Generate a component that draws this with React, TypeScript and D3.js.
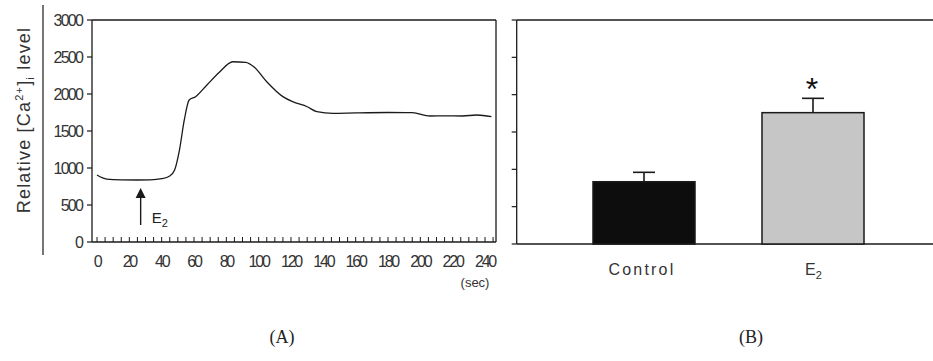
import React from "react";
import * as d3 from "d3";

// Panel A: time course
const timeSec = [0, 6, 15, 25, 33, 40, 45, 48, 51, 54, 57, 61, 68, 76, 84, 92, 97, 105, 115, 121, 130, 136, 146, 160, 180, 195, 206, 215, 226, 235, 244];
const caLevel = [905, 850, 840, 838, 840, 855, 892, 973, 1243, 1649, 1919, 1964, 2122, 2301, 2436, 2428, 2369, 2166, 1964, 1896, 1828, 1761, 1739, 1745, 1750, 1748, 1703, 1705, 1703, 1716, 1693];
const xTickLabels = [0, 20, 40, 60, 80, 100, 120, 140, 160, 180, 200, 220, 240];
const yTickLabels = [0, 500, 1000, 1500, 2000, 2500, 3000];
const arrowTime = 27;

// Panel B: bars
const categories = ["Control", "E2"];
const barMeans = [834, 1759];
const barErrors = [126, 192];

const W = 933;
const H = 361;
const ink = "#1a1a1a";
const sans = "'Liberation Sans', Arial, Helvetica, sans-serif";
const serif = "'Liberation Serif', 'Times New Roman', serif";

export default function App() {
  const xA = d3.scaleLinear().domain([0, 240]).range([97, 485]);
  const yA = d3.scaleLinear().domain([0, 3000]).range([242, 20]);
  const ax0 = 92, ax1 = 496;

  const line = d3
    .line<number>()
    .x((_, i) => xA(timeSec[i]))
    .y((d) => yA(d))
    .curve(d3.curveMonotoneX);

  const minorTicks = d3.range(0, 246, 5);

  const xB = d3.scaleBand<string>().domain(categories).range([559.2, 897.8]).paddingInner(0.3964).paddingOuter(0.2);
  const yB = d3.scaleLinear().domain([0, 3000]).range([244, 20]);
  const bx0 = 516.7;

  const arrowX = xA(arrowTime);

  return (
    <svg width={W} height={H} style={{ position: "absolute", left: 0, top: 0, background: "#fff" }}>
      {/* separator line left of y label */}
      <line x1={43} x2={43} y1={5} y2={255} stroke={ink} strokeWidth={1.2} />

      {/* Y label */}
      <text
        transform={`translate(30,120) rotate(-90)`}
        textAnchor="middle"
        fontFamily={sans}
        fontSize={18}
        letterSpacing={1.2}
        fill="#333"
      >
        Relative [Ca<tspan fontSize={11} dy={-7}>2+</tspan>
        <tspan dy={7}>]</tspan>
        <tspan fontSize={11} dy={4}>i</tspan>
        <tspan dy={-4}> level</tspan>
      </text>

      {/* Panel A frame */}
      <g stroke={ink} strokeWidth={1.3} fill="none">
        <line x1={ax0} x2={ax1} y1={yA(3000)} y2={yA(3000)} />
        <line x1={ax0} x2={ax1} y1={yA(0)} y2={yA(0)} />
        <line x1={ax0} x2={ax0} y1={yA(3000)} y2={yA(0)} />
        <line x1={ax1} x2={ax1} y1={yA(3000)} y2={yA(0)} />
      </g>
      {/* Y ticks A */}
      {yTickLabels.map((v) => (
        <g key={"ya" + v}>
          <line x1={ax0 - 5} x2={ax0} y1={yA(v)} y2={yA(v)} stroke={ink} strokeWidth={1.2} />
          <text x={82} y={yA(v) + 5.5} textAnchor="end" fontFamily={sans} fontSize={16} letterSpacing={-1.8} fill="#333">
            {v}
          </text>
        </g>
      ))}
      {/* minor x ticks */}
      {minorTicks.map((t) => (
        <line key={"mt" + t} x1={xA(t)} x2={xA(t)} y1={yA(0)} y2={yA(0) - 5} stroke={ink} strokeWidth={1} />
      ))}
      {/* x tick labels */}
      {xTickLabels.map((t) => (
        <text key={"xl" + t} x={xA(t)} y={267} textAnchor="middle" fontFamily={sans} fontSize={16} letterSpacing={-2.2} fill="#333">
          {t}
        </text>
      ))}
      <text x={475} y={287} textAnchor="middle" fontFamily={sans} fontSize={13} fill="#333">
        (sec)
      </text>

      {/* curve */}
      <path d={line(caLevel) || ""} fill="none" stroke={ink} strokeWidth={1.3} />

      {/* arrow */}
      <line x1={arrowX} x2={arrowX} y1={yA(230)} y2={yA(600)} stroke={ink} strokeWidth={1.4} />
      <path
        d={`M${arrowX},${yA(730)} L${arrowX - 5},${yA(595)} L${arrowX + 5},${yA(595)} Z`}
        fill={ink}
      />
      <text x={arrowX + 11} y={223} fontFamily={sans} fontSize={15} fill="#222">
        E<tspan fontSize={11} dy={4}>2</tspan>
      </text>

      {/* Panel B frame */}
      <g stroke={ink} strokeWidth={1.3}>
        <line x1={bx0} x2={W} y1={yB(3000)} y2={yB(3000)} />
        <line x1={bx0} x2={W} y1={yB(0)} y2={yB(0)} />
        <line x1={bx0} x2={bx0} y1={yB(3000)} y2={yB(0)} />
      </g>
      {yTickLabels.map((v) => (
        <line key={"yb" + v} x1={bx0 - 5} x2={bx0} y1={yB(v)} y2={yB(v)} stroke={ink} strokeWidth={1.2} />
      ))}

      {/* bars */}
      {categories.map((c, i) => {
        const x = xB(c) as number;
        const bw = xB.bandwidth();
        const cx = x + bw / 2;
        return (
          <g key={c}>
            <line x1={cx} x2={cx} y1={yB(barMeans[i])} y2={yB(barMeans[i] + barErrors[i])} stroke={ink} strokeWidth={1.6} />
            <line x1={cx - 11} x2={cx + 11} y1={yB(barMeans[i] + barErrors[i])} y2={yB(barMeans[i] + barErrors[i])} stroke={ink} strokeWidth={1.6} />
            <rect
              x={x}
              y={yB(barMeans[i])}
              width={bw}
              height={yB(0) - yB(barMeans[i])}
              fill={i === 0 ? "#0d0d0d" : "#c6c6c6"}
              stroke={ink}
              strokeWidth={1.5}
            />
          </g>
        );
      })}
      {/* significance star */}
      <text
        x={(xB("E2") as number) + xB.bandwidth() / 2 - 1}
        y={100}
        textAnchor="middle"
        fontFamily={sans}
        fontSize={32}
        fill="#111"
      >
        *
      </text>

      {/* category labels */}
      <text x={(xB("Control") as number) + xB.bandwidth() / 2 - 2} y={275} textAnchor="middle" fontFamily={sans} fontSize={16} letterSpacing={2.2} fill="#333">
        Control
      </text>
      <text x={(xB("E2") as number) + xB.bandwidth() / 2 - 8} y={275} textAnchor="start" fontFamily={sans} fontSize={16} fill="#333">
        E<tspan fontSize={11} dy={4}>2</tspan>
      </text>

      {/* panel labels */}
      <text x={282} y={343} textAnchor="middle" fontFamily={serif} fontSize={18} fill="#222">
        (A)
      </text>
      <text x={751} y={343} textAnchor="middle" fontFamily={serif} fontSize={18} fill="#222">
        (B)
      </text>
    </svg>
  );
}
